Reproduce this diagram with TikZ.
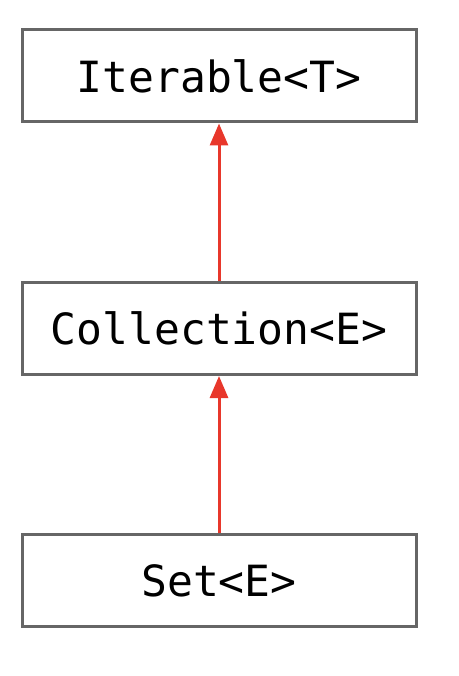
\documentclass[tikz,border=0pt]{standalone}
\usepackage{fontspec}
\setmonofont{DejaVu Sans Mono}
\usetikzlibrary{arrows.meta}
\definecolor{boxline}{HTML}{666666}
\definecolor{inherit}{HTML}{E8372B}
\begin{document}
\begin{tikzpicture}[x=1pt,y=-1pt,
  typebox/.style={draw=boxline,line width=3pt,minimum width=394pt,minimum height=92pt,
    inner sep=0pt,font=\fontsize{43}{43}\selectfont\ttfamily},
  extends/.style={draw=inherit,line width=3pt,-{Triangle[width=18pt,length=22pt]}}]
\useasboundingbox (0,0) rectangle (458,676);
\node[typebox] (iter) at (219,76) {Iterable<T>};
\node[typebox] (coll) at (219,328.5) {Collection<E>};
\node[typebox] (set) at (219,580.5) {Set<E>};
\draw[extends] (coll.north) -- (iter.south);
\draw[extends] (set.north) -- (coll.south);
\end{tikzpicture}
\end{document}
